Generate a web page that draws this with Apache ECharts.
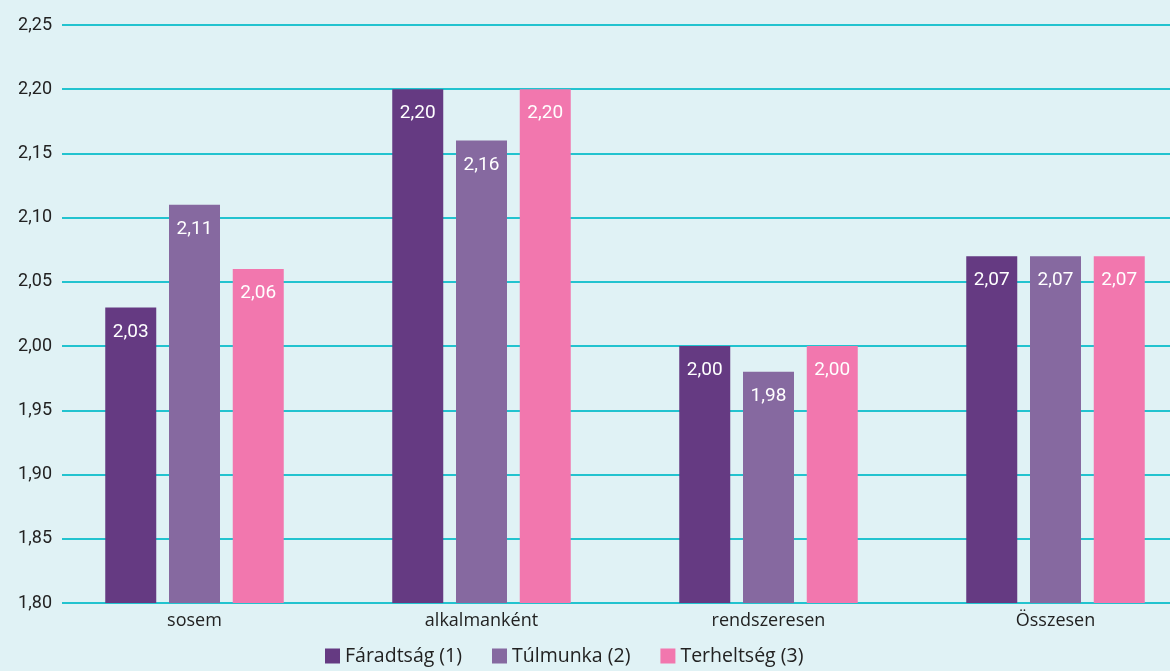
<!DOCTYPE html>
<html><head><meta charset="utf-8">
<script src="https://cdn.jsdelivr.net/npm/echarts@6/dist/echarts.min.js"></script>
<style>html,body{margin:0;padding:0;background:#e0f2f5;}#c{width:1170px;height:671px;}</style>
</head><body><div id="c"></div>
<script>
const categories = ['sosem', 'alkalmanként', 'rendszeresen', 'Összesen'];
const seriesNames = ['Fáradtság (1)', 'Túlmunka (2)', 'Terheltség (3)'];
const faradtsag = [2.03, 2.20, 2.00, 2.07];
const tulmunka = [2.11, 2.16, 1.98, 2.07];
const terheltseg = [2.06, 2.20, 2.00, 2.07];
const colors = ['#653a82', '#8669a0', '#f277ae'];
const yMin = 1.80, yMax = 2.25, yStep = 0.05;

const fmt = v => v.toFixed(2).replace('.', ',');
const font = 'Roboto, "DejaVu Sans", sans-serif';
const wide = '"Open Sans", Roboto, sans-serif';
const chart = echarts.init(document.getElementById('c'));
const data = [faradtsag, tulmunka, terheltseg];
chart.setOption({
  backgroundColor: '#e0f2f5',
  animation: false,
  textStyle: {fontFamily: font},
  grid: [
    {left: 66, right: 0, top: 25, bottom: 68, outerBoundsMode: 'none'},
    {left: 51, width: 1148, top: 25, bottom: 68, outerBoundsMode: 'none'}
  ],
  legend: {
    data: seriesNames, bottom: 0, left: 320, itemWidth: 15, itemHeight: 15, itemGap: 30,
    icon: 'rect',
    textStyle: {fontSize: 19.5, color: '#222', fontFamily: wide}
  },
  xAxis: [
    {type: 'value', gridIndex: 0, show: false, min: 0, max: 1},
    {type: 'category', gridIndex: 1, data: categories,
     axisLine: {show: false}, axisTick: {show: false},
     axisLabel: {fontSize: 18, color: '#222', margin: 9, fontFamily: wide}}
  ],
  yAxis: [
    {type: 'value', gridIndex: 0, min: yMin, max: yMax, interval: yStep,
     axisLine: {show: false},
     axisTick: {show: true, length: 4, lineStyle: {color: '#22c3cf', width: 2}},
     axisLabel: {formatter: fmt, fontSize: 18, color: '#222', margin: 14, fontFamily: font},
     splitLine: {lineStyle: {color: '#22c3cf', width: 2}}},
    {type: 'value', gridIndex: 1, min: yMin, max: yMax, interval: yStep, show: false,
     splitLine: {show: false}}
  ],
  series: data.map((d, i) => ({
    name: seriesNames[i], type: 'bar', xAxisIndex: 1, yAxisIndex: 1,
    data: d, barWidth: 51, barGap: '25%',
    itemStyle: {color: colors[i]},
    label: {show: true, position: 'insideTop', distance: 15, color: '#fff', fontSize: 19,
            fontFamily: font, formatter: p => fmt(p.value)}
  }))
});
</script></body></html>
